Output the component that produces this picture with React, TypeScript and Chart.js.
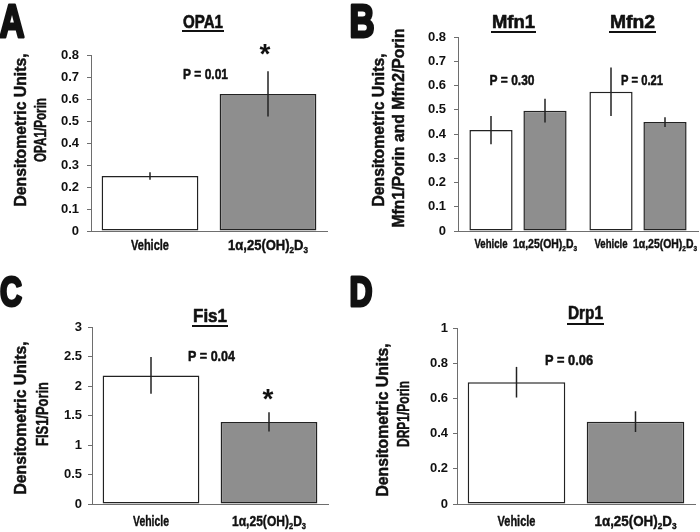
import React, { useEffect, useRef } from "react";
import { Chart, registerables } from "chart.js";

Chart.register(...registerables);

// ---------- data ----------
const groups = ["Vehicle", "1α,25(OH)2D3"];
const drugLabelParts = [
  { t: "1α,25(OH)", sub: false },
  { t: "2", sub: true },
  { t: "D", sub: false },
  { t: "3", sub: true },
];

const opa1Values = [0.25, 0.623];
const opa1Errors = [0.017, 0.103];
const opa1Ticks = [0, 0.1, 0.2, 0.3, 0.4, 0.5, 0.6, 0.7, 0.8];

const mfnProteins = ["Mfn1", "Mfn2"];
const mfnVehicle = [0.416, 0.574];
const mfnVehicleErrors = [0.058, 0.1];
const mfnDrug = [0.496, 0.449];
const mfnDrugErrors = [0.049, 0.02];
const mfnTicks = [0, 0.1, 0.2, 0.3, 0.4, 0.5, 0.6, 0.7, 0.8];

const fis1Values = [2.18, 1.39];
const fis1Errors = [0.31, 0.163];
const fis1Ticks = [0, 0.5, 1, 1.5, 2, 2.5, 3];

const drp1Values = [0.692, 0.468];
const drp1Errors = [0.087, 0.059];
const drp1Ticks = [0, 0.2, 0.4, 0.6, 0.8, 1];

const panelLetters = ["A", "B", "C", "D"];
const panelTitles = ["OPA1", "Mfn1", "Mfn2", "Fis1", "Drp1"];
const pLabels = ["P = 0.01", "P = 0.30", "P = 0.21", "P = 0.04", "P = 0.06"];
const yTitleLine1 = "Densitometric Units,";
const yTitleLine2 = ["OPA1/Porin", "Mfn1/Porin and Mfn2/Porin", "FIS1/Porin", "DRP1/Porin"];

// ---------- styles ----------
const FONT = '"Liberation Sans", Arial, Helvetica, sans-serif';
const INK = "#111111";
const AXIS = "#6e6e6e";
const BAR_EDGE = "#222222";
const WHITE_FILL = "#ffffff";
const GRAY_FILL = "#8e8e8e";

// ---------- text helpers ----------
function fitText(
  ctx: CanvasRenderingContext2D,
  text: string,
  x: number,
  y: number,
  size: number,
  width: number,
  rotate = false,
  heavy = 0.5
) {
  ctx.save();
  ctx.font = `bold ${size}px ${FONT}`;
  const w = ctx.measureText(text).width || 1;
  ctx.translate(x, y);
  if (rotate) ctx.rotate(-Math.PI / 2);
  ctx.scale(width / w, 1);
  ctx.textAlign = "center";
  ctx.textBaseline = "alphabetic";
  ctx.fillStyle = INK;
  ctx.fillText(text, 0, size * 0.36);
  if (heavy > 0) {
    ctx.strokeStyle = INK;
    ctx.lineWidth = heavy;
    ctx.lineJoin = "round";
    ctx.strokeText(text, 0, size * 0.36);
  }
  ctx.restore();
}

function titleText(ctx: CanvasRenderingContext2D, text: string, x: number, y: number, size: number, width: number, underlineY: number) {
  fitText(ctx, text, x, y, size, width, false, 0.6);
  ctx.save();
  ctx.fillStyle = INK;
  ctx.fillRect(x - width / 2 - 1, underlineY - 1, width + 2, 2);
  ctx.restore();
}

function star(ctx: CanvasRenderingContext2D, x: number, y: number, size: number) {
  ctx.save();
  ctx.font = `bold ${size}px ${FONT}`;
  ctx.textAlign = "center";
  ctx.textBaseline = "alphabetic";
  ctx.fillStyle = INK;
  ctx.fillText("*", x, y + size * 0.55);
  ctx.restore();
}

function drugLabel(ctx: CanvasRenderingContext2D, x: number, y: number, size: number, width: number) {
  ctx.save();
  const subSize = size * 0.62;
  const widths = drugLabelParts.map((p) => {
    ctx.font = `bold ${p.sub ? subSize : size}px ${FONT}`;
    return ctx.measureText(p.t).width;
  });
  const total = widths.reduce((a, b) => a + b, 0) || 1;
  ctx.translate(x, y);
  ctx.scale(width / total, 1);
  ctx.textAlign = "left";
  ctx.textBaseline = "alphabetic";
  ctx.fillStyle = INK;
  ctx.strokeStyle = INK;
  ctx.lineWidth = 0.4;
  let cx = -total / 2;
  drugLabelParts.forEach((p, i) => {
    ctx.font = `bold ${p.sub ? subSize : size}px ${FONT}`;
    const yy = p.sub ? size * 0.36 + size * 0.24 : size * 0.36;
    ctx.fillText(p.t, cx, yy);
    ctx.strokeText(p.t, cx, yy);
    cx += widths[i];
  });
  ctx.restore();
}

// ---------- panel spec ----------
type DS = { values: number[]; errors: number[]; fill: string | string[] };
type Spec = {
  left: number;
  top: number;
  labels: string[];
  datasets: DS[];
  yMax: number;
  yTicks: number[];
  padding: { left: number; right: number; top: number; bottom: number };
  tickPad: number;
  tickSize: number;
  catPct: number;
  barPct: number;
  labelSize: number;
  vehicleW: number;
  drugW: number;
  labelY: number;
  decorate: (ctx: CanvasRenderingContext2D) => void;
};

const specA: Spec = {
  left: 0,
  top: 0,
  labels: groups,
  datasets: [{ values: opa1Values, errors: opa1Errors, fill: [WHITE_FILL, GRAY_FILL] }],
  yMax: 0.8,
  yTicks: opa1Ticks,
  padding: { left: 51, right: 23, top: 55, bottom: 35 },
  tickPad: 8,
  tickSize: 13,
  catPct: 1,
  barPct: 0.82,
  labelSize: 14,
  vehicleW: 38,
  drugW: 80,
  labelY: 245,
  decorate: (ctx) => {
    fitText(ctx, panelLetters[0], 12, 20, 47, 25, false, 3);
    titleText(ctx, panelTitles[0], 203, 22, 18, 40, 31);
    star(ctx, 265, 48, 28);
    fitText(ctx, pLabels[0], 205.5, 74, 15, 45);
    fitText(ctx, yTitleLine1, 20, 130, 17, 153, true);
    fitText(ctx, yTitleLine2[0], 40, 130, 17, 64, true);
  },
};

const specB: Spec = {
  left: 350,
  top: 0,
  labels: mfnProteins,
  datasets: [
    { values: mfnVehicle, errors: mfnVehicleErrors, fill: WHITE_FILL },
    { values: mfnDrug, errors: mfnDrugErrors, fill: GRAY_FILL },
  ],
  yMax: 0.8,
  yTicks: mfnTicks,
  padding: { left: 68, right: 2, top: 37, bottom: 35 },
  tickPad: 8,
  tickSize: 13,
  catPct: 0.9,
  barPct: 0.8,
  labelSize: 12,
  vehicleW: 33,
  drugW: 64,
  labelY: 244,
  decorate: (ctx) => {
    fitText(ctx, panelLetters[1], 362, 20, 47, 25, false, 3);
    titleText(ctx, panelTitles[1], 513.5, 22, 18, 43, 32);
    titleText(ctx, panelTitles[2], 632.5, 22, 18, 45, 32);
    fitText(ctx, pLabels[1], 512, 80, 15, 45);
    fitText(ctx, pLabels[2], 642, 80, 15, 42);
    fitText(ctx, yTitleLine1, 378, 130, 17, 153, true);
    fitText(ctx, yTitleLine2[1], 398, 128, 17, 199, true);
  },
};

const specC: Spec = {
  left: 0,
  top: 266,
  labels: groups,
  datasets: [{ values: fis1Values, errors: fis1Errors, fill: [WHITE_FILL, GRAY_FILL] }],
  yMax: 3,
  yTicks: fis1Ticks,
  padding: { left: 52, right: 22, top: 61, bottom: 28 },
  tickPad: 6,
  tickSize: 13,
  catPct: 1,
  barPct: 0.82,
  labelSize: 14,
  vehicleW: 36,
  drugW: 74,
  labelY: 521,
  decorate: (ctx) => {
    fitText(ctx, panelLetters[2], 11, 291, 42, 22, false, 3);
    titleText(ctx, panelTitles[3], 210, 316, 18, 34, 326);
    star(ctx, 268, 393, 28);
    fitText(ctx, pLabels[3], 211.5, 356, 15, 47);
    fitText(ctx, yTitleLine1, 20, 418, 17, 153, true);
    fitText(ctx, yTitleLine2[2], 42, 414, 17, 64, true);
  },
};

const specD: Spec = {
  left: 350,
  top: 266,
  labels: groups,
  datasets: [{ values: drp1Values, errors: drp1Errors, fill: [WHITE_FILL, GRAY_FILL] }],
  yMax: 1,
  yTicks: drp1Ticks,
  padding: { left: 67, right: 5, top: 62, bottom: 28 },
  tickPad: 5,
  tickSize: 13,
  catPct: 1,
  barPct: 0.82,
  labelSize: 14,
  vehicleW: 38,
  drugW: 82,
  labelY: 521,
  decorate: (ctx) => {
    fitText(ctx, panelLetters[3], 361, 291, 42, 23, false, 3);
    titleText(ctx, panelTitles[4], 585.5, 313, 18, 35, 324);
    fitText(ctx, pLabels[4], 569, 360, 15, 48);
    fitText(ctx, yTitleLine1, 382, 420, 17, 153, true);
    fitText(ctx, yTitleLine2[3], 403, 414, 17, 66, true);
  },
};

const specs = [specA, specB, specC, specD];

function Panel({ spec }: { spec: Spec }) {
  const ref = useRef<HTMLCanvasElement>(null);
  useEffect(() => {
    const canvas = ref.current;
    if (!canvas) return;
    const decor = {
      id: "panelDecor",
      afterDatasetsDraw(chart: any) {
        const ctx: CanvasRenderingContext2D = chart.ctx;
        const yScale = chart.scales.y;
        ctx.save();
        ctx.strokeStyle = BAR_EDGE;
        ctx.lineWidth = 1.5;
        spec.datasets.forEach((ds, d) => {
          const meta = chart.getDatasetMeta(d);
          ds.values.forEach((v, i) => {
            const el = meta.data[i];
            const e = ds.errors[i];
            const y1 = yScale.getPixelForValue(v + e);
            const y2 = yScale.getPixelForValue(v - e);
            ctx.beginPath();
            ctx.moveTo(el.x, y1);
            ctx.lineTo(el.x, y2);
            ctx.stroke();
          });
        });
        ctx.restore();
      },
      afterDraw(chart: any) {
        const ctx: CanvasRenderingContext2D = chart.ctx;
        const ly = spec.labelY - spec.top;
        spec.datasets.forEach((ds, d) => {
          const meta = chart.getDatasetMeta(d);
          ds.values.forEach((_v, i) => {
            const el = meta.data[i];
            const g = spec.datasets.length > 1 ? d : i;
            if (g === 0) fitText(ctx, groups[0], el.x, ly, spec.labelSize, spec.vehicleW, false, 0.4);
            else drugLabel(ctx, el.x, ly, spec.labelSize, spec.drugW);
          });
        });
        ctx.save();
        ctx.translate(-spec.left, -spec.top);
        spec.decorate(ctx);
        ctx.restore();
      },
    };
    const chart = new Chart(canvas, {
      type: "bar",
      data: {
        labels: spec.labels,
        datasets: spec.datasets.map((ds) => ({
          data: ds.values,
          backgroundColor: ds.fill as any,
          borderColor: BAR_EDGE,
          borderWidth: 1.5,
          borderSkipped: false,
          categoryPercentage: spec.catPct,
          barPercentage: spec.barPct,
        })),
      },
      options: {
        animation: false,
        responsive: false,
        devicePixelRatio: 1,
        layout: { padding: spec.padding },
        plugins: { legend: { display: false }, tooltip: { enabled: false } },
        scales: {
          x: {
            display: true,
            grid: { display: false },
            border: { display: true, color: AXIS, width: 1 },
            ticks: { display: false },
            afterFit: (s: any) => {
              s.height = 0;
            },
          },
          y: {
            min: 0,
            max: spec.yMax,
            afterBuildTicks: (s: any) => {
              s.ticks = spec.yTicks.map((v) => ({ value: v }));
            },
            ticks: {
              padding: spec.tickPad,
              color: INK,
              font: { family: FONT, size: spec.tickSize, weight: "bold" },
              callback: (v: any) => String(v),
            },
            grid: { display: true, drawOnChartArea: false, drawTicks: true, tickLength: 4, color: AXIS, lineWidth: 1 },
            border: { display: true, color: AXIS, width: 1 },
            afterFit: (s: any) => {
              s.width = 40;
            },
          },
        },
      } as any,
      plugins: [decor],
    });
    return () => chart.destroy();
  }, [spec]);
  return (
    <canvas
      ref={ref}
      width={350}
      height={266}
      style={{ position: "absolute", left: spec.left, top: spec.top, width: 350, height: 266 }}
    />
  );
}

export default function App() {
  return (
    <div style={{ position: "absolute", left: 0, top: 0, width: 700, height: 532, background: "#fff" }}>
      {specs.map((s, i) => (
        <Panel key={i} spec={s} />
      ))}
    </div>
  );
}
